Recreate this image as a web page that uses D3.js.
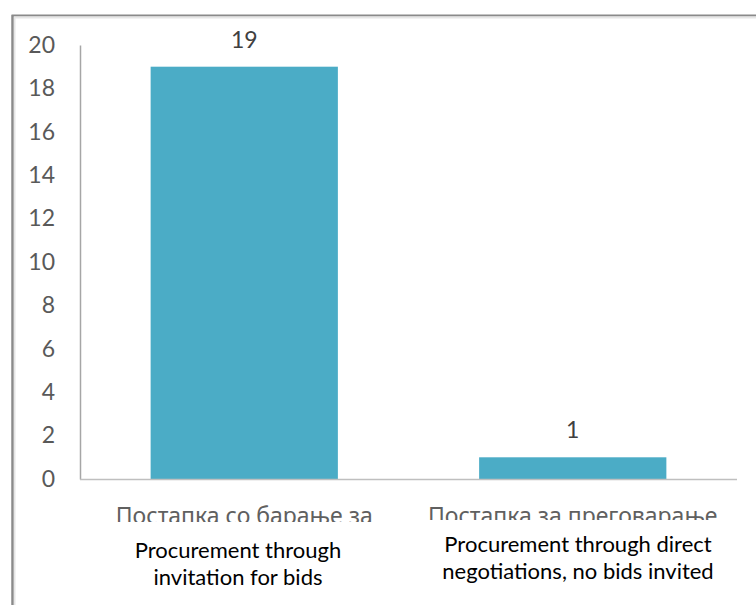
<!DOCTYPE html>
<html>
<head>
<meta charset="utf-8">
<script src="https://cdn.jsdelivr.net/npm/d3@7"></script>
<style>
  body { margin: 0; background: #fff; }
  svg { display: block; }
</style>
</head>
<body>
<script>
// data
const categories = ["Постапка со барање за", "Постапка за преговарање"];
const values = [19, 1];
const englishLabels = [
    ["Procurement through", "invitation for bids"],
    ["Procurement through direct", "negotiations, no bids invited"]
];
const yTicks = [0, 2, 4, 6, 8, 10, 12, 14, 16, 18, 20];

const W = 756, H = 605;
const margin = { top: 45, right: 19, bottom: 126, left: 80 };

const svg = d3.select("body").append("svg")
    .attr("width", W)
    .attr("height", H);

// frame (only top and left edges are visible in the crop)
svg.append("path")
    .attr("d", "M12.5," + H + "V15.5H" + W)
    .attr("fill", "none")
    .attr("stroke", "#8a8a8a")
    .attr("stroke-width", 2);
svg.append("path")
    .attr("d", "M14.5," + H + "V17.5H" + W)
    .attr("fill", "none")
    .attr("stroke", "#e6e6e6")
    .attr("stroke-width", 2);

const x = d3.scaleBand()
    .domain(categories)
    .range([margin.left, W - margin.right])
    .paddingInner(0.43)
    .paddingOuter(0.215);

const y = d3.scaleLinear()
    .domain([0, 20])
    .range([H - margin.bottom, margin.top]);

// bars
svg.append("g").selectAll("rect")
    .data(values)
    .join("rect")
    .attr("x", (d, i) => x(categories[i]))
    .attr("y", d => y(d))
    .attr("width", x.bandwidth())
    .attr("height", d => y(0) - y(d))
    .attr("fill", "#4bacc6");

// value labels
svg.append("g").selectAll("text")
    .data(values)
    .join("text")
    .attr("x", (d, i) => x(categories[i]) + x.bandwidth() / 2)
    .attr("y", d => y(d) - 19)
    .attr("text-anchor", "middle")
    .attr("font-family", "Lato, sans-serif")
    .attr("font-size", 23)
    .attr("fill", "#404040")
    .text(d => d);

// y axis
const yAxis = svg.append("g")
    .attr("transform", "translate(" + margin.left + ",0)")
    .call(d3.axisLeft(y).tickValues(yTicks).tickSize(0).tickPadding(25));
yAxis.select(".domain").attr("stroke", "#a6a6a6").attr("stroke-width", 1.5);
yAxis.selectAll("text")
    .attr("font-family", "Lato, sans-serif")
    .attr("font-size", 23)
    .attr("fill", "#595959");

// x axis with the original (Macedonian) labels
const xAxis = svg.append("g")
    .attr("transform", "translate(0," + y(0) + ")")
    .call(d3.axisBottom(x).tickSize(0).tickPadding(29));
xAxis.select(".domain")
    .attr("d", "M" + margin.left + ",0.5H" + (W - margin.right))
    .attr("stroke", "#bfbfbf")
    .attr("stroke-width", 1.5);
xAxis.selectAll("text")
    .attr("font-family", "'Noto Sans', sans-serif")
    .attr("font-size", 23)
    .attr("fill", "#606060");

// english text boxes pasted over the lower half of the axis labels
const boxTop = [522, 520];
const boxCx = [238, 578];
const firstBase = [558, 552];

const boxes = svg.append("g").selectAll("g")
    .data(englishLabels)
    .join("g");

boxes.append("rect")
    .attr("x", (d, i) => boxCx[i] - 155)
    .attr("y", (d, i) => boxTop[i])
    .attr("width", 310)
    .attr("height", (d, i) => H - boxTop[i])
    .attr("fill", "#fff");

boxes.each(function (d, i) {
    const t = d3.select(this).append("text")
        .attr("text-anchor", "middle")
        .attr("font-family", "Lato, sans-serif")
        .attr("font-size", 22)
        .attr("fill", "#000");
    t.selectAll("tspan")
        .data(d)
        .join("tspan")
        .attr("x", boxCx[i])
        .attr("y", (s, k) => firstBase[i] + k * 27)
        .text(s => s);
});

// redraw the frame's left edge over the text boxes
svg.append("line")
    .attr("x1", 12.5).attr("x2", 12.5)
    .attr("y1", 15).attr("y2", H)
    .attr("stroke", "#8a8a8a")
    .attr("stroke-width", 2);
</script>
</body>
</html>
